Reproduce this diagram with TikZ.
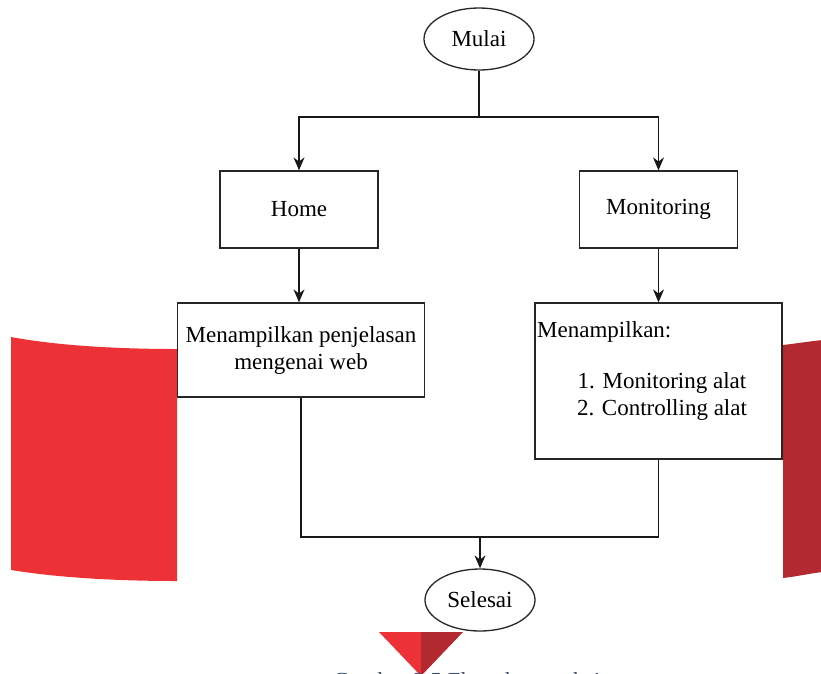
\documentclass[tikz,border=0pt]{standalone}
\usepackage{fontspec}
\setmainfont{Liberation Serif}
\usetikzlibrary{shapes.geometric,arrows.meta,positioning,calc}

\definecolor{redlight}{HTML}{EC3237}
\definecolor{reddark}{HTML}{B2292F}
\definecolor{captionblue}{HTML}{3B4A6B}

\begin{document}
\begin{tikzpicture}[x=1pt,y=-1pt,
	every node/.style={font=\fontsize{23}{27}\selectfont},
	terminal/.style={ellipse,draw=black!85,line width=1.3pt,fill=white,
		minimum width=110pt,minimum height=62pt,inner sep=0pt},
	process/.style={rectangle,draw=black!85,line width=1.3pt,fill=white,
		inner sep=0pt,align=center},
	flow/.style={draw=black!90,line width=1.3pt},
	arrow/.style={flow,-{Stealth[length=13pt,width=11pt]}}]

	% frame
	\useasboundingbox (0,0) rectangle (821,673);

	% red decorations
	\fill[redlight] (11,337) .. controls (60,346) and (120,349) .. (177,349)
		-- (177,581) .. controls (120,581) and (60,578) .. (11,570) -- cycle;
	\fill[reddark] (783,345) .. controls (800,343) and (812,341) .. (823,340)
		-- (823,572) .. controls (812,573) and (800,576) .. (783,578) -- cycle;
	\fill[redlight] (379,632) -- (421,632) -- (421,676) -- cycle;
	\fill[reddark] (421,632) -- (463,632) -- (421,676) -- cycle;

	% nodes
	\node[terminal] (start) at (479,39) {Mulai};
	\node[process,minimum width=158pt,minimum height=77pt] (home) at (299,209.5) {Home};
	\node[process,minimum width=158pt,minimum height=77pt] (monitor) at (658.5,209.5) {Monitoring};
	\node[process,minimum width=247pt,minimum height=94pt] (info) at (301,350)
		{Menampilkan penjelasan\\mengenai web};
	\node[process,minimum width=247pt,minimum height=156pt] (menu) at (658.5,381) {};
	\node[anchor=west,inner sep=0pt] (menutitle) at (537,332) {Menampilkan:};
	\node[align=center,inner sep=0pt] (menulist) at (662,396)
		{1. Monitoring alat\\2. Controlling alat};
	\node[terminal] (stop) at (480,600) {Selesai};

	% branch points
	\coordinate (fork) at (479,117);
	\coordinate (join) at (480,537);

	% connectors
	\draw[flow] (start) -- (fork);
	\draw[arrow] (fork) -| (home);
	\draw[arrow] (fork) -| (monitor);
	\draw[arrow] (home.south) -- (home.south |- info.north);
	\draw[arrow] (monitor) -- (menu);
	\draw[flow] (info.south) |- (join) -| (menu.south);
	\draw[arrow] (join) -- (stop);

	% caption, cut by the frame
	\begin{scope}
		\clip (0,0) rectangle (821,673);
		\node[anchor=base west,inner sep=0pt,text=captionblue] (caption) at (333,688)
			{Gambar 3.5 Flowchart website};
	\end{scope}

\end{tikzpicture}
\end{document}
